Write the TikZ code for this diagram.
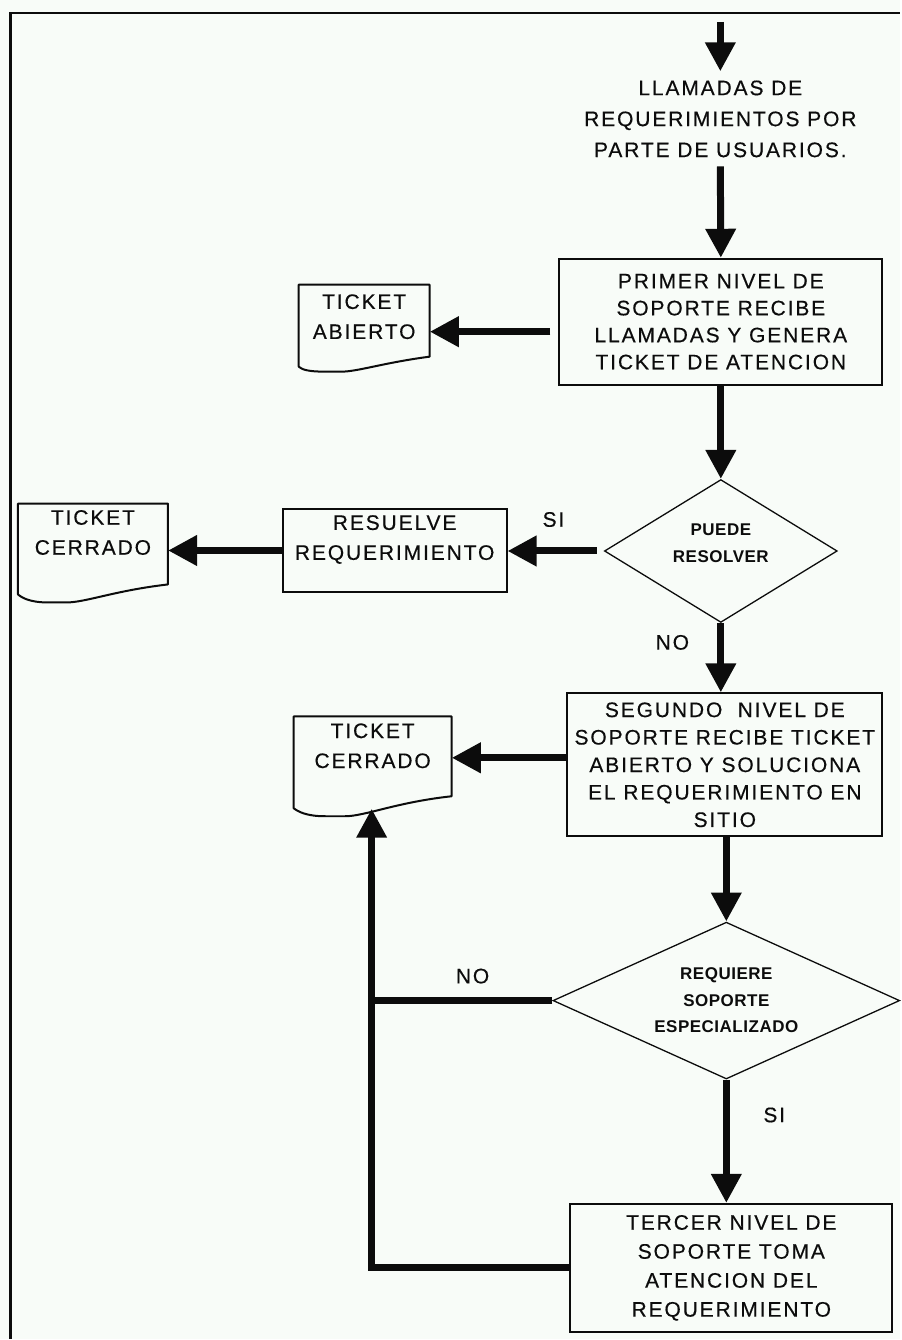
\documentclass[tikz,border=0pt]{standalone}
\usepackage{fontspec}
\usetikzlibrary{shapes.geometric,arrows.meta,calc}
\newfontfamily\lblfont{Liberation Sans}[LetterSpace=9, FakeBold=0.4]
\newfontfamily\dmdfont{Liberation Sans}[LetterSpace=3]
\definecolor{paper}{RGB}{248,252,248}
\definecolor{ink}{RGB}{12,12,12}

% document-shaped outline around a ticket node:
% #1 node, #2 half width, #3 top, #4 right bottom, #5 left bottom, #6 lowest point
\newcommand\ticketoutline[6]{%
  \draw[docline] ($(#1)+(-#2,#3)$) -- ($(#1)+(#2,#3)$) -- ($(#1)+(#2,#4)$)
    .. controls ($(#1)+(0.3*#2,#4+6)$) and ($(#1)+(-0.1*#2,#6)$) .. ($(#1)+(-0.35*#2,#6)$)
    -- ($(#1)+(-0.6*#2,#6)$)
    .. controls ($(#1)+(-0.85*#2,#6)$) and ($(#1)+(-0.95*#2,#5+3)$) .. ($(#1)+(-#2,#5)$)
    -- cycle;}

\begin{document}
\begin{tikzpicture}[x=1pt,y=-1pt,
  txt/.style={font=\lblfont\fontsize{21}{27}\selectfont, align=center, text=ink},
  procbox/.style={txt, draw=ink, line width=2pt, inner sep=0pt},
  dtext/.style={font=\dmdfont\bfseries\fontsize{17}{27}\selectfont, align=center, text=ink, inner sep=0pt},
  decision/.style={diamond, draw=ink, line width=1.3pt, inner sep=0pt},
  ticket/.style={txt, font=\lblfont\fontsize{21}{30}\selectfont, inner sep=0pt},
  flow/.style={draw=ink, line width=7pt, -{Triangle[length=29pt,width=29pt]}},
  link/.style={draw=ink, line width=7pt},
  docline/.style={draw=ink, line width=2pt, line join=round},
]
% page and frame
\fill[paper] (0,0) rectangle (901,1340);
\draw[ink, line width=2.5pt] (10.5,1340) -- (10.5,13) -- (901,13);

% incoming calls
\coordinate (src) at (721,22);
\node[txt, font=\lblfont\fontsize{21}{31}\selectfont, inner sep=9pt] (calls) at (721,119)
  {LLAMADAS DE\\REQUERIMIENTOS POR\\PARTE DE USUARIOS.};

% first level
\node[procbox, minimum width=323pt, minimum height=126pt] (b1) at (721.5,322)
  {PRIMER NIVEL DE\\SOPORTE RECIBE\\LLAMADAS Y GENERA\\TICKET DE ATENCION};
\node[ticket, minimum width=131pt] (tA) at (364.5,317) {TICKET\\ABIERTO};
\ticketoutline{tA}{65.5}{-32}{40}{50}{55}

% first decision
\node[decision, minimum width=233pt, minimum height=143pt,
  label={[dtext, yshift=8pt]center:PUEDE\\RESOLVER}] (d1) at (721.5,551.5) {};
\node[procbox, minimum width=224pt, minimum height=84pt,
  label={[txt, font=\lblfont\fontsize{21}{30}\selectfont, yshift=11pt]center:RESUELVE\\REQUERIMIENTO}] (res) at (395,551) {};
\node[ticket, minimum width=150pt] (tC1) at (93,533) {TICKET\\CERRADO};
\ticketoutline{tC1}{75}{-29}{52}{62}{70}
\node[txt] (si1) at (554,520) {SI};
\node[txt] (no1) at (673,643) {NO};

% second level
\node[procbox, minimum width=315pt, minimum height=143pt, font=\lblfont\fontsize{21}{27.5}\selectfont] (b2) at (725.5,765.5)
  {SEGUNDO\ \ NIVEL DE\\SOPORTE RECIBE TICKET\\ABIERTO Y SOLUCIONA\\EL REQUERIMIENTO EN\\SITIO};
\node[ticket, minimum width=158pt] (tC2) at (373,746.5) {TICKET\\CERRADO};
\ticketoutline{tC2}{79}{-29.5}{50.5}{62.5}{70.5}
\coordinate (c2in) at ($(tC2)+(-1,63)$);

% second decision
\node[decision, minimum width=347pt, minimum height=157pt,
  label={[dtext, font=\dmdfont\bfseries\fontsize{17}{26.5}\selectfont]center:REQUIERE\\SOPORTE\\ESPECIALIZADO}] (d2) at (727,1001.5) {};
\node[txt] (no2) at (473,977) {NO};
\node[txt] (si2) at (775,1116) {SI};

% third level
\node[procbox, minimum width=322pt, minimum height=128pt, font=\lblfont\fontsize{21}{29}\selectfont] (b3) at (732,1269)
  {TERCER NIVEL DE\\SOPORTE TOMA\\ATENCION DEL\\REQUERIMIENTO};

% connectors
\draw[flow] (src) -- (calls.north);
\draw[flow] (calls.south) -- (b1.north);
\coordinate (a1) at ($(b1.west)+(0,10)$);
\draw[flow, shorten <=8pt] (a1) -- (a1 -| tA.east);
\draw[flow] (b1.south) -- (d1.north);
\draw[flow, shorten <=7pt] (d1.west) -- (d1.west -| res.east);
\draw[flow] (res.west) -- (res.west -| tC1.east);
\draw[flow] (d1.south) -- (d1.south |- b2.north);
\coordinate (a2) at ($(b2.west)+(0,-7)$);
\draw[flow] (a2) -- (a2 -| tC2.east);
\draw[flow] (d2.north |- b2.south) -- (d2.north);
\draw[flow] (d2.south) -- (d2.south |- b3.north);
\draw[link] (d2.west) -- (d2.west -| c2in);
\draw[flow] (b3.west) -| (c2in);
\end{tikzpicture}
\end{document}
